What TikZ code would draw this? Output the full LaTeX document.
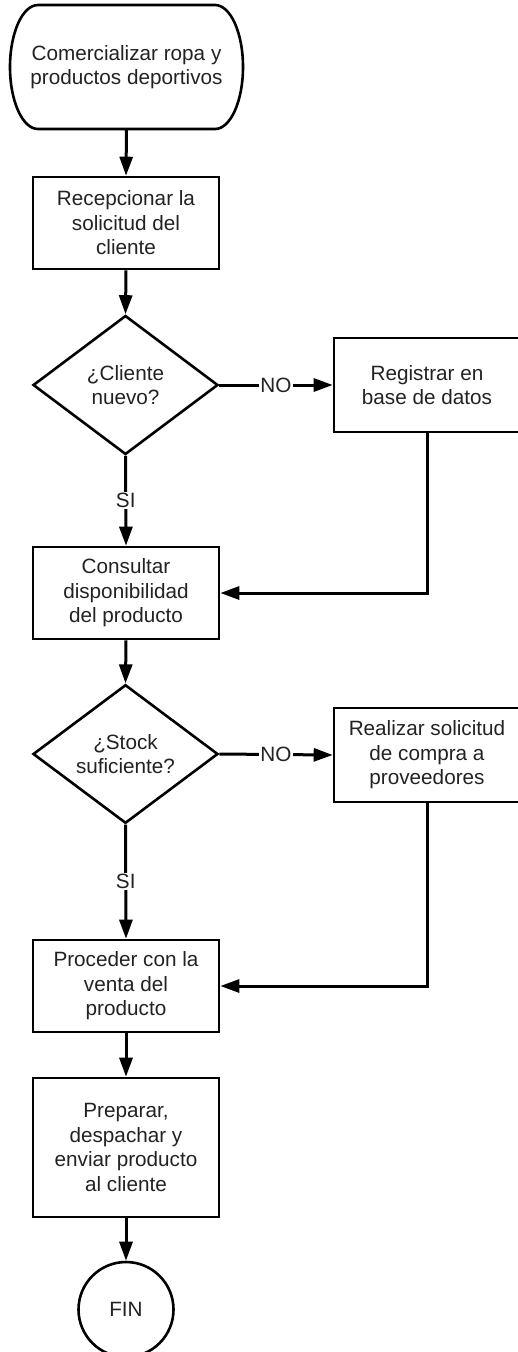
\documentclass[tikz,border=0pt]{standalone}
\usepackage{fontspec}
\setmainfont{Liberation Sans}
\usetikzlibrary{shapes.geometric,arrows.meta}
\definecolor{txt}{HTML}{222222}
\begin{document}
\begin{tikzpicture}[x=1pt,y=1pt,
  lbl/.style={font=\fontsize{20.7}{24.5}\selectfont, text=txt, align=center},
  procbox/.style={lbl, draw, line width=2.6pt, minimum width=186pt, inner sep=0pt},
  decision/.style={lbl, draw, diamond, line width=2.6pt, minimum width=185pt, minimum height=139pt, inner sep=0pt},
  conn/.style={line width=3pt, -{Triangle[length=19pt,width=13pt]}},
  edgelbl/.style={lbl, fill=white, inner sep=1pt}
]
\useasboundingbox (0,0) rectangle (518,-1352);
% start terminator
\node[lbl, minimum width=233pt, minimum height=124pt] (start) at (126.5,-67) {Comercializar ropa y\\productos deportivos};
\draw[line width=2.6pt] (38,-5) -- (215,-5)
  arc[start angle=90,end angle=-90,x radius=28,y radius=62]
  -- (38,-129)
  arc[start angle=270,end angle=90,x radius=28,y radius=62] -- cycle;
\node[procbox, minimum height=92pt] (b1) at (126,-223) {Recepcionar la\\solicitud del\\cliente};
\node[decision] (d1) at (125.5,-385) {¿Cliente\\nuevo?};
\node[procbox, minimum height=94pt] (reg) at (427,-385) {Registrar en\\base de datos};
\node[procbox, minimum height=92pt] (b2) at (126,-593) {Consultar\\disponibilidad\\del producto};
\node[decision, minimum height=138pt] (d2) at (125.5,-754) {¿Stock\\suficiente?};
\node[procbox, minimum height=94pt] (real) at (427,-755) {Realizar solicitud\\de compra a\\proveedores};
\node[procbox, minimum height=92pt] (b3) at (126,-986) {Proceder con la\\venta del\\producto};
\node[procbox, minimum height=139pt] (b4) at (126,-1147.5) {Preparar,\\despachar y\\enviar producto\\al cliente};
\node[lbl, draw, circle, line width=2.6pt, minimum size=95pt, inner sep=0pt] (fin) at (126,-1309.5) {FIN};
% connectors
\draw[conn] (start.south) -- (b1.north);
\draw[conn] (b1.south) -- (d1.north);
\draw[conn] (d1.east) -- node[edgelbl] {NO} (reg.west);
\draw[conn] (d1.south) -- node[edgelbl] {SI} (b2.north);
\draw[conn] (reg.south) |- (b2.east);
\draw[conn] (b2.south) -- (d2.north);
\draw[conn] (d2.east) -- node[edgelbl] {NO} (real.west);
\draw[conn] (d2.south) -- node[edgelbl] {SI} (b3.north);
\draw[conn] (real.south) |- (b3.east);
\draw[conn] (b3.south) -- (b4.north);
\draw[conn] (b4.south) -- (fin.north);
\end{tikzpicture}
\end{document}
